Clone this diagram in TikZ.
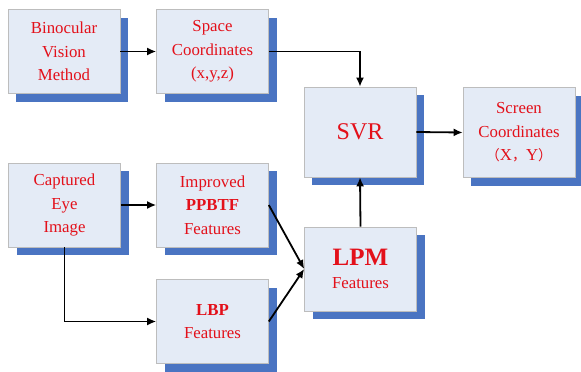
\documentclass[tikz,border=0pt]{standalone}
\usepackage{fontspec}
\setmainfont{Liberation Serif}
\newfontfamily\cjk{Noto Sans CJK SC}
\usetikzlibrary{arrows.meta,shadows}
\definecolor{boxfill}{HTML}{E4EBF6}
\definecolor{boxline}{HTML}{BDBDBD}
\definecolor{shadowblue}{HTML}{4A74C2}
\definecolor{txtred}{HTML}{E3101A}
\tikzset{
  blk/.style={draw=boxline, line width=0.6pt, fill=boxfill, text=txtred,
    minimum width=112pt, minimum height=84pt, align=center, inner sep=0pt,
    font=\fontsize{16.8}{23.5}\selectfont,
    drop shadow={shadow xshift=8pt, shadow yshift=-8pt, fill=shadowblue, opacity=1}},
  conn/.style={line width=1.8pt, -{Latex[length=9pt,width=8pt]}}
}
\begin{document}
\begin{tikzpicture}[x=1pt,y=-1pt]
\useasboundingbox (0,0) rectangle (581,372);
\node[blk] (bin) at (64,51.5) {Binocular\\Vision\\Method};
\node[blk] (space) at (212.5,51.5) {Space\\Coordinates\\(x,y,z)};
\node[blk, minimum height=90pt] (svr) at (360,132) {\fontsize{24}{28}\selectfont SVR};
\node[blk, minimum height=90pt] (screen) at (519,132.5) {Screen\\Coordinates\\{\cjk\fontsize{14}{23.5}\selectfont （}X{\cjk\fontsize{14}{23.5}\selectfont ，}Y{\cjk\fontsize{14}{23.5}\selectfont ）}};
\node[blk] (cap) at (64.5,205) {Captured\\Eye\\Image};
\node[blk] (imp) at (212.5,205) {Improved\\\textbf{PPBTF}\\Features};
\node[blk] (lbp) at (212.5,321.5) {\textbf{LBP}\\Features};
\node[blk] (lpm) at (360.5,269) {{\fontsize{25}{28}\selectfont\textbf{LPM}}\\Features};
\draw[conn] (bin.east) -- (space.west);
\draw[conn] (space.east) -| (svr.north);
\draw[conn] (svr.east) -- (screen.west);
\draw[conn] (cap.east) -- (imp.west);
\draw[conn] (cap.south) |- (lbp.west);
\draw[conn] (imp.east) -- (lpm.west);
\draw[conn] (lbp.east) -- (lpm.west);
\draw[conn] (lpm.north) -- (svr.south);
\end{tikzpicture}
\end{document}
